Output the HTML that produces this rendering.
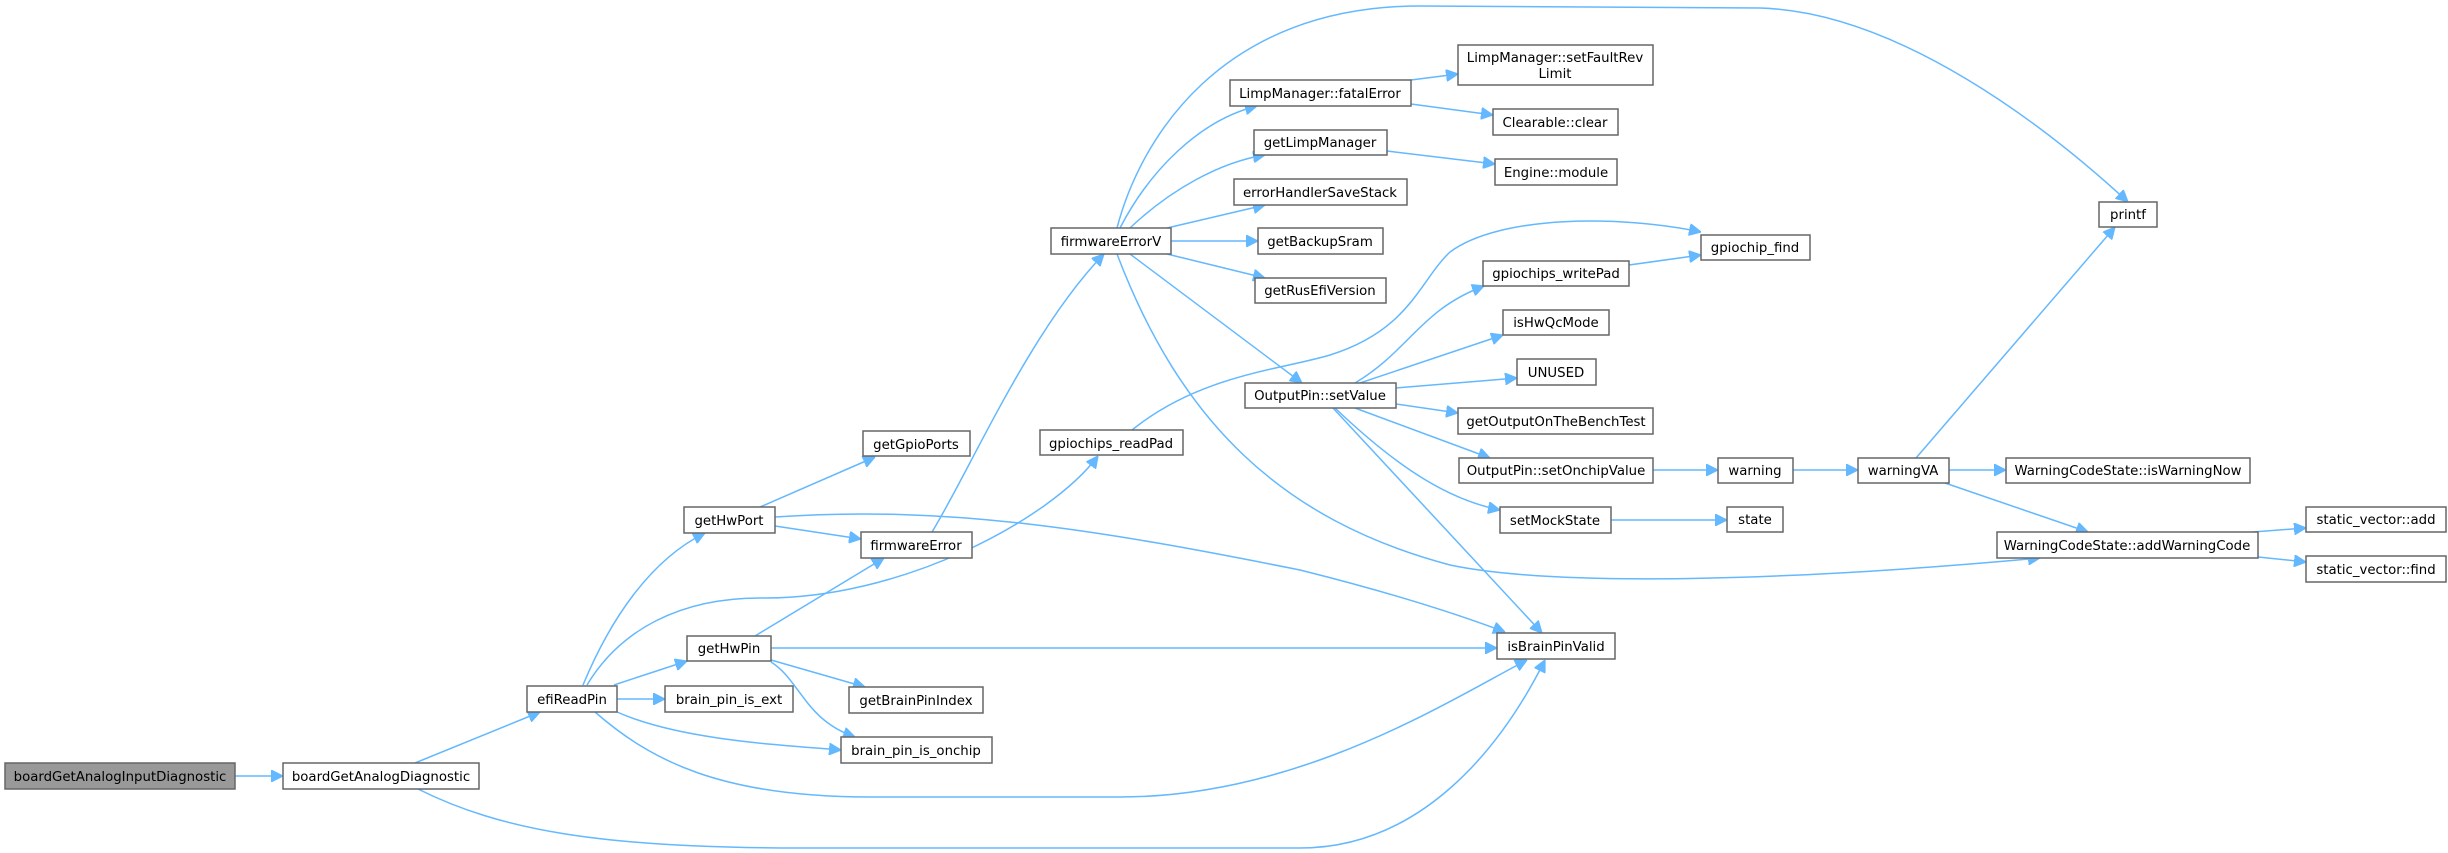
<!DOCTYPE html>
<html><head><meta charset="utf-8"><style>
html,body{margin:0;padding:0;background:#fff;}
svg{display:block;}
text{font-family:"DejaVu Sans","Liberation Sans",sans-serif;font-size:13.3px;fill:#000;text-anchor:middle;}
.n{fill:#fff;stroke:#666;stroke-width:1.5;}
.e{fill:none;stroke:#63b8ff;stroke-width:1.5;}
</style></head><body>
<svg width="2448" height="853" viewBox="0 0 2448 853" xmlns="http://www.w3.org/2000/svg">
<defs><marker id="a" viewBox="0 0 10 10" refX="10" refY="5" markerWidth="12" markerHeight="12" markerUnits="userSpaceOnUse" orient="auto"><path d="M0,0 L10,5 L0,10 z" fill="#63b8ff" stroke="#63b8ff"/></marker></defs>
<g class="edges">
<path class="e" marker-end="url(#a)" d="M235,776 L283,776"/>
<path class="e" marker-end="url(#a)" d="M415,763 L540,712"/>
<path class="e" marker-end="url(#a)" d="M418,789 C500,830 600,848 800,848 L1300,848 C1420,848 1500,750 1545,660"/>
<path class="e" marker-end="url(#a)" d="M583,685 C610,620 650,560 705,533"/>
<path class="e" marker-end="url(#a)" d="M587,685 C620,630 680,598 760,598 C900,600 1050,520 1098,456"/>
<path class="e" marker-end="url(#a)" d="M614,685 L687,661"/>
<path class="e" marker-end="url(#a)" d="M617,699 L665,699"/>
<path class="e" marker-end="url(#a)" d="M617,712 C680,740 780,745 841,750"/>
<path class="e" marker-end="url(#a)" d="M595,712 C650,760 720,797 870,797 L1120,797 C1300,797 1450,700 1527,660"/>
<path class="e" marker-end="url(#a)" d="M760,507 L875,457"/>
<path class="e" marker-end="url(#a)" d="M775,526 L861,539"/>
<path class="e" marker-end="url(#a)" d="M775,517 C950,505 1100,530 1300,570 C1400,595 1460,615 1505,632"/>
<path class="e" marker-end="url(#a)" d="M755,636 L884,558"/>
<path class="e" marker-end="url(#a)" d="M771,648 L1497,648"/>
<path class="e" marker-end="url(#a)" d="M771,660 L865,687"/>
<path class="e" marker-end="url(#a)" d="M771,662 C800,680 805,720 855,737"/>
<path class="e" marker-end="url(#a)" d="M932,532 C970,470 1030,330 1104,254"/>
<path class="e" marker-end="url(#a)" d="M1117,228 C1140,140 1220,6 1420,6 L1760,8 C1900,12 2050,130 2128,202"/>
<path class="e" marker-end="url(#a)" d="M1120,228 C1150,170 1200,120 1257,106"/>
<path class="e" marker-end="url(#a)" d="M1130,228 C1170,190 1220,162 1265,155"/>
<path class="e" marker-end="url(#a)" d="M1167,228 L1265,205"/>
<path class="e" marker-end="url(#a)" d="M1171,241 L1258,241"/>
<path class="e" marker-end="url(#a)" d="M1167,254 L1265,278"/>
<path class="e" marker-end="url(#a)" d="M1130,254 L1302,383"/>
<path class="e" marker-end="url(#a)" d="M1117,254 C1180,420 1280,520 1450,565 C1560,588 1800,580 2040,558"/>
<path class="e" marker-end="url(#a)" d="M1411,80 L1458,74"/>
<path class="e" marker-end="url(#a)" d="M1411,104 L1493,115"/>
<path class="e" marker-end="url(#a)" d="M1387,151 L1495,164"/>
<path class="e" marker-end="url(#a)" d="M1132,430 C1200,375 1280,370 1330,355 C1410,330 1420,280 1450,252 C1500,215 1620,215 1701,232"/>
<path class="e" marker-end="url(#a)" d="M1629,265 L1701,255"/>
<path class="e" marker-end="url(#a)" d="M1355,383 C1410,350 1420,310 1484,286"/>
<path class="e" marker-end="url(#a)" d="M1360,383 L1503,335"/>
<path class="e" marker-end="url(#a)" d="M1396,388 L1517,378"/>
<path class="e" marker-end="url(#a)" d="M1396,404 L1458,413"/>
<path class="e" marker-end="url(#a)" d="M1355,408 L1490,458"/>
<path class="e" marker-end="url(#a)" d="M1335,408 C1400,470 1450,500 1500,510"/>
<path class="e" marker-end="url(#a)" d="M1333,408 L1542,633"/>
<path class="e" marker-end="url(#a)" d="M1653,470 L1718,470"/>
<path class="e" marker-end="url(#a)" d="M1611,520 L1727,520"/>
<path class="e" marker-end="url(#a)" d="M1793,470 L1858,470"/>
<path class="e" marker-end="url(#a)" d="M1916,458 L2115,227"/>
<path class="e" marker-end="url(#a)" d="M1949,470 L2006,470"/>
<path class="e" marker-end="url(#a)" d="M1945,483 L2088,532"/>
<path class="e" marker-end="url(#a)" d="M2253,532 L2306,528"/>
<path class="e" marker-end="url(#a)" d="M2258,557 L2306,562"/>
</g>
<g>
<rect x="5" y="763" width="230" height="26" style="fill:#999;stroke:#666;stroke-width:1.5"/><text x="120" y="781">boardGetAnalogInputDiagnostic</text>
<rect class="n" x="283" y="763" width="196" height="26"/><text x="381" y="781">boardGetAnalogDiagnostic</text>
<rect class="n" x="527" y="686" width="90" height="26"/><text x="572" y="704">efiReadPin</text>
<rect class="n" x="684" y="507" width="91" height="26"/><text x="729" y="525">getHwPort</text>
<rect class="n" x="863" y="431" width="107" height="25"/><text x="916" y="449">getGpioPorts</text>
<rect class="n" x="861" y="532" width="111" height="26"/><text x="916" y="550">firmwareError</text>
<rect class="n" x="687" y="636" width="84" height="25"/><text x="729" y="653">getHwPin</text>
<rect class="n" x="665" y="686" width="128" height="26"/><text x="729" y="704">brain_pin_is_ext</text>
<rect class="n" x="849" y="687" width="134" height="26"/><text x="916" y="705">getBrainPinIndex</text>
<rect class="n" x="841" y="737" width="151" height="26"/><text x="916" y="755">brain_pin_is_onchip</text>
<rect class="n" x="1051" y="228" width="120" height="26"/><text x="1111" y="246">firmwareErrorV</text>
<rect class="n" x="1040" y="430" width="143" height="25"/><text x="1111" y="448">gpiochips_readPad</text>
<rect class="n" x="1230" y="80" width="181" height="26"/><text x="1320" y="98">LimpManager::fatalError</text>
<rect class="n" x="1254" y="130" width="133" height="25"/><text x="1320" y="147">getLimpManager</text>
<rect class="n" x="1234" y="179" width="173" height="26"/><text x="1320" y="197">errorHandlerSaveStack</text>
<rect class="n" x="1258" y="228" width="125" height="26"/><text x="1320" y="246">getBackupSram</text>
<rect class="n" x="1255" y="278" width="131" height="25"/><text x="1320" y="295">getRusEfiVersion</text>
<rect class="n" x="1245" y="383" width="151" height="25"/><text x="1320" y="400">OutputPin::setValue</text>
<rect class="n" x="1458" y="45" width="195" height="40"/><text x="1555" y="62">LimpManager::setFaultRev</text><text x="1555" y="78">Limit</text>
<rect class="n" x="1493" y="109" width="125" height="26"/><text x="1555" y="127">Clearable::clear</text>
<rect class="n" x="1495" y="159" width="122" height="26"/><text x="1556" y="177">Engine::module</text>
<rect class="n" x="1483" y="261" width="146" height="25"/><text x="1556" y="278">gpiochips_writePad</text>
<rect class="n" x="1503" y="310" width="106" height="25"/><text x="1556" y="327">isHwQcMode</text>
<rect class="n" x="1517" y="359" width="79" height="26"/><text x="1556" y="377">UNUSED</text>
<rect class="n" x="1458" y="408" width="195" height="26"/><text x="1556" y="426">getOutputOnTheBenchTest</text>
<rect class="n" x="1459" y="458" width="194" height="25"/><text x="1556" y="475">OutputPin::setOnchipValue</text>
<rect class="n" x="1500" y="507" width="111" height="26"/><text x="1555" y="525">setMockState</text>
<rect class="n" x="1497" y="633" width="118" height="26"/><text x="1556" y="651">isBrainPinValid</text>
<rect class="n" x="1701" y="235" width="109" height="25"/><text x="1755" y="252">gpiochip_find</text>
<rect class="n" x="1718" y="458" width="75" height="25"/><text x="1755" y="475">warning</text>
<rect class="n" x="1727" y="507" width="56" height="25"/><text x="1755" y="524">state</text>
<rect class="n" x="2099" y="202" width="58" height="25"/><text x="2128" y="219">printf</text>
<rect class="n" x="1858" y="458" width="91" height="25"/><text x="1903" y="475">warningVA</text>
<rect class="n" x="2006" y="458" width="244" height="25"/><text x="2128" y="475">WarningCodeState::isWarningNow</text>
<rect class="n" x="1997" y="532" width="261" height="26"/><text x="2127" y="550">WarningCodeState::addWarningCode</text>
<rect class="n" x="2306" y="507" width="140" height="25"/><text x="2376" y="524">static_vector::add</text>
<rect class="n" x="2306" y="556" width="140" height="26"/><text x="2376" y="574">static_vector::find</text>
</g>
</svg>
</body></html>
